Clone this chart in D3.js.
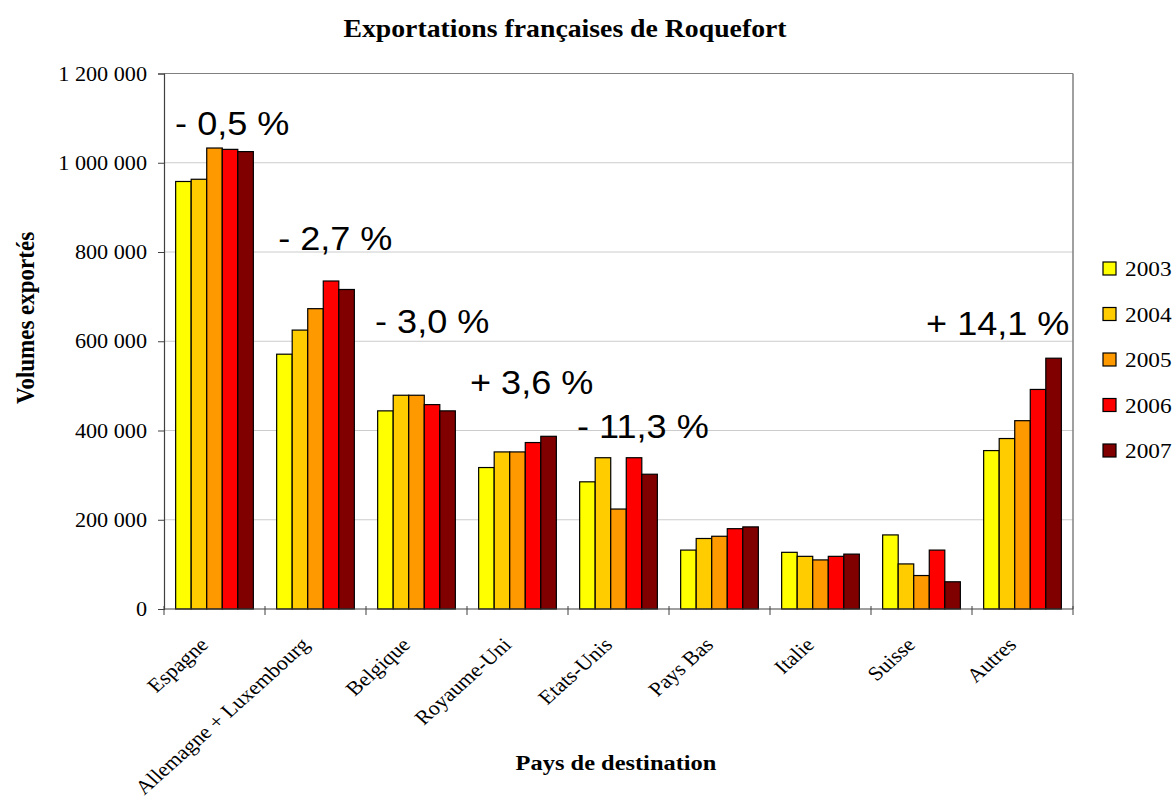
<!DOCTYPE html>
<html>
<head>
<meta charset="utf-8">
<script src="https://cdn.jsdelivr.net/npm/d3@7/dist/d3.min.js"></script>
<style>
  body { margin: 0; background: #fff; }
  svg { display: block; }
</style>
</head>
<body>
<svg id="chart" width="1173" height="808"></svg>
<script>
// ---------- DATA ----------
const categories = ["Espagne", "Allemagne + Luxembourg", "Belgique", "Royaume-Uni", "Etats-Unis", "Pays Bas", "Italie", "Suisse", "Autres"];
const years = ["2003", "2004", "2005", "2006", "2007"];
const v2003 = [958000, 571000, 444000, 317000, 285000, 132000, 127000, 166000, 355000];
const v2004 = [963000, 625000, 479000, 352000, 339000, 158000, 118000, 101000, 382000];
const v2005 = [1033000, 673000, 479000, 352000, 224000, 163000, 110000, 75000, 422000];
const v2006 = [1030000, 735000, 458000, 373000, 339000, 180000, 118000, 132000, 492000];
const v2007 = [1025000, 716000, 444000, 387000, 302000, 184000, 123000, 61000, 562000];
const yTicks = [0, 200000, 400000, 600000, 800000, 1000000, 1200000];
const yTickLabels = ["0", "200 000", "400 000", "600 000", "800 000", "1 000 000", "1 200 000"];
const annotLabels = ["- 0,5 %", "- 2,7 %", "- 3,0 %", "+ 3,6 %", "- 11,3 %", "+ 14,1 %"];
const annotCategory = ["Espagne", "Allemagne + Luxembourg", "Belgique", "Royaume-Uni", "Etats-Unis", "Autres"];
const annotLevel = [1062000, 804000, 618000, 482000, 383000, 614000];

const seriesValues = [v2003, v2004, v2005, v2006, v2007];
const colors = ["#FFFF00", "#FFCC00", "#FF9900", "#FF0000", "#800000"];
const annotShift = [0.11, 0.13, 0.09, 0.03, 0.09, -0.455];

// ---------- LAYOUT ----------
const svg = d3.select("#chart");
const plot = { left: 164, right: 1073, top: 73.5, bottom: 609 };
const SX = 1.11; // horizontal stretch of the reference text
const serif = "'Liberation Serif', 'Times New Roman', serif";
const sans = "'Liberation Sans', Arial, sans-serif";

const x = d3.scaleBand().domain(categories).range([plot.left, plot.right]).paddingInner(0).paddingOuter(0);
const bw = x.bandwidth();
const gapHalf = bw * 1.5 / 6.5 / 2;
const xi = d3.scaleBand().domain(years).range([gapHalf, bw - gapHalf]).padding(0);
const y = d3.scaleLinear().domain([0, 1200000]).range([plot.bottom, plot.top]);

// gridlines
svg.append("g").selectAll("line")
  .data(yTicks.filter(t => t > 0 && t < 1200000))
  .join("line")
  .attr("x1", plot.left).attr("x2", plot.right)
  .attr("y1", d => y(d)).attr("y2", d => y(d))
  .attr("stroke", "#cccccc").attr("stroke-width", 1);

// plot border top/right
svg.append("line").attr("x1", plot.left).attr("x2", plot.right)
  .attr("y1", y(1200000)).attr("y2", y(1200000)).attr("stroke", "#808080").attr("stroke-width", 1.2);
svg.append("line").attr("x1", plot.right).attr("x2", plot.right)
  .attr("y1", plot.top).attr("y2", plot.bottom).attr("stroke", "#808080").attr("stroke-width", 1.5);

// bars
const rows = [];
categories.forEach((c, i) => years.forEach((yr, j) => rows.push({ c, yr, v: seriesValues[j][i], color: colors[j] })));
svg.append("g").selectAll("rect")
  .data(rows).join("rect")
  .attr("x", d => x(d.c) + xi(d.yr))
  .attr("y", d => y(d.v))
  .attr("width", xi.bandwidth())
  .attr("height", d => y(0) - y(d.v))
  .attr("fill", d => d.color)
  .attr("stroke", "#000").attr("stroke-width", 1.2);

// y axis
const yAxis = d3.axisLeft(y).tickValues(yTicks).tickSize(6).tickPadding(10)
  .tickFormat((d, i) => yTickLabels[i]);
const gy = svg.append("g").attr("transform", `translate(${plot.left},0)`).call(yAxis);
gy.attr("font-family", serif);
gy.select(".domain").attr("stroke", "#404040").attr("stroke-width", 1.2);
gy.selectAll(".tick line").attr("stroke", "#404040");
gy.selectAll(".tick text")
  .attr("font-family", serif).attr("font-size", 20).attr("fill", "#000")
  .attr("x", null).attr("dy", null)
  .attr("dominant-baseline", "central")
  .attr("transform", `translate(-17,0) scale(${SX},1)`);

// x axis
const boundaries = categories.map(c => x(c)).concat([plot.right]);
svg.append("line").attr("x1", plot.left).attr("x2", plot.right)
  .attr("y1", y(0)).attr("y2", y(0)).attr("stroke", "#404040").attr("stroke-width", 1.2);
svg.append("g").selectAll("line").data(boundaries).join("line")
  .attr("x1", d => d).attr("x2", d => d)
  .attr("y1", y(0) - 3).attr("y2", y(0) + 6)
  .attr("stroke", "#404040").attr("stroke-width", 1);

svg.append("g").selectAll("text").data(categories).join("text")
  .attr("transform", d => `translate(${x(d) + bw / 2 - 5},${y(0) + 37}) scale(${SX},1) rotate(-45)`)
  .attr("text-anchor", "end")
  .attr("font-family", serif).attr("font-size", 20).attr("fill", "#000")
  .text(d => d);

// annotations
svg.append("g").selectAll("text").data(annotLabels).join("text")
  .attr("transform", (d, i) => `translate(${x(annotCategory[i]) + bw * annotShift[i]},${y(annotLevel[i])}) scale(${SX},1)`)
  .attr("font-family", sans).attr("font-size", 32.5).attr("fill", "#000")
  .text(d => d);

// title
svg.append("text")
  .attr("transform", `translate(565,37) scale(${SX},1)`)
  .attr("text-anchor", "middle").attr("font-family", serif).attr("font-weight", "bold")
  .attr("font-size", 25).text("Exportations françaises de Roquefort");

// axis titles
svg.append("text")
  .attr("transform", `translate(616,770) scale(${SX},1)`)
  .attr("text-anchor", "middle").attr("font-family", serif).attr("font-weight", "bold")
  .attr("font-size", 22).text("Pays de destination");
svg.append("text")
  .attr("transform", `translate(34,318) scale(${SX},1) rotate(-90)`)
  .attr("text-anchor", "middle").attr("font-family", serif).attr("font-weight", "bold")
  .attr("font-size", 23).text("Volumes exportés");

// legend
const legend = svg.append("g").selectAll("g").data(years).join("g")
  .attr("transform", (d, i) => `translate(1103,${269 + i * 45.5})`);
legend.append("rect").attr("x", 0).attr("y", -7).attr("width", 13).attr("height", 13)
  .attr("fill", (d, i) => colors[i]).attr("stroke", "#000").attr("stroke-width", 1.2);
legend.append("text")
  .attr("transform", `translate(22,0) scale(${SX},1)`)
  .attr("dominant-baseline", "central")
  .attr("font-family", serif).attr("font-size", 21).attr("fill", "#000")
  .text(d => d);
</script>
</body>
</html>
